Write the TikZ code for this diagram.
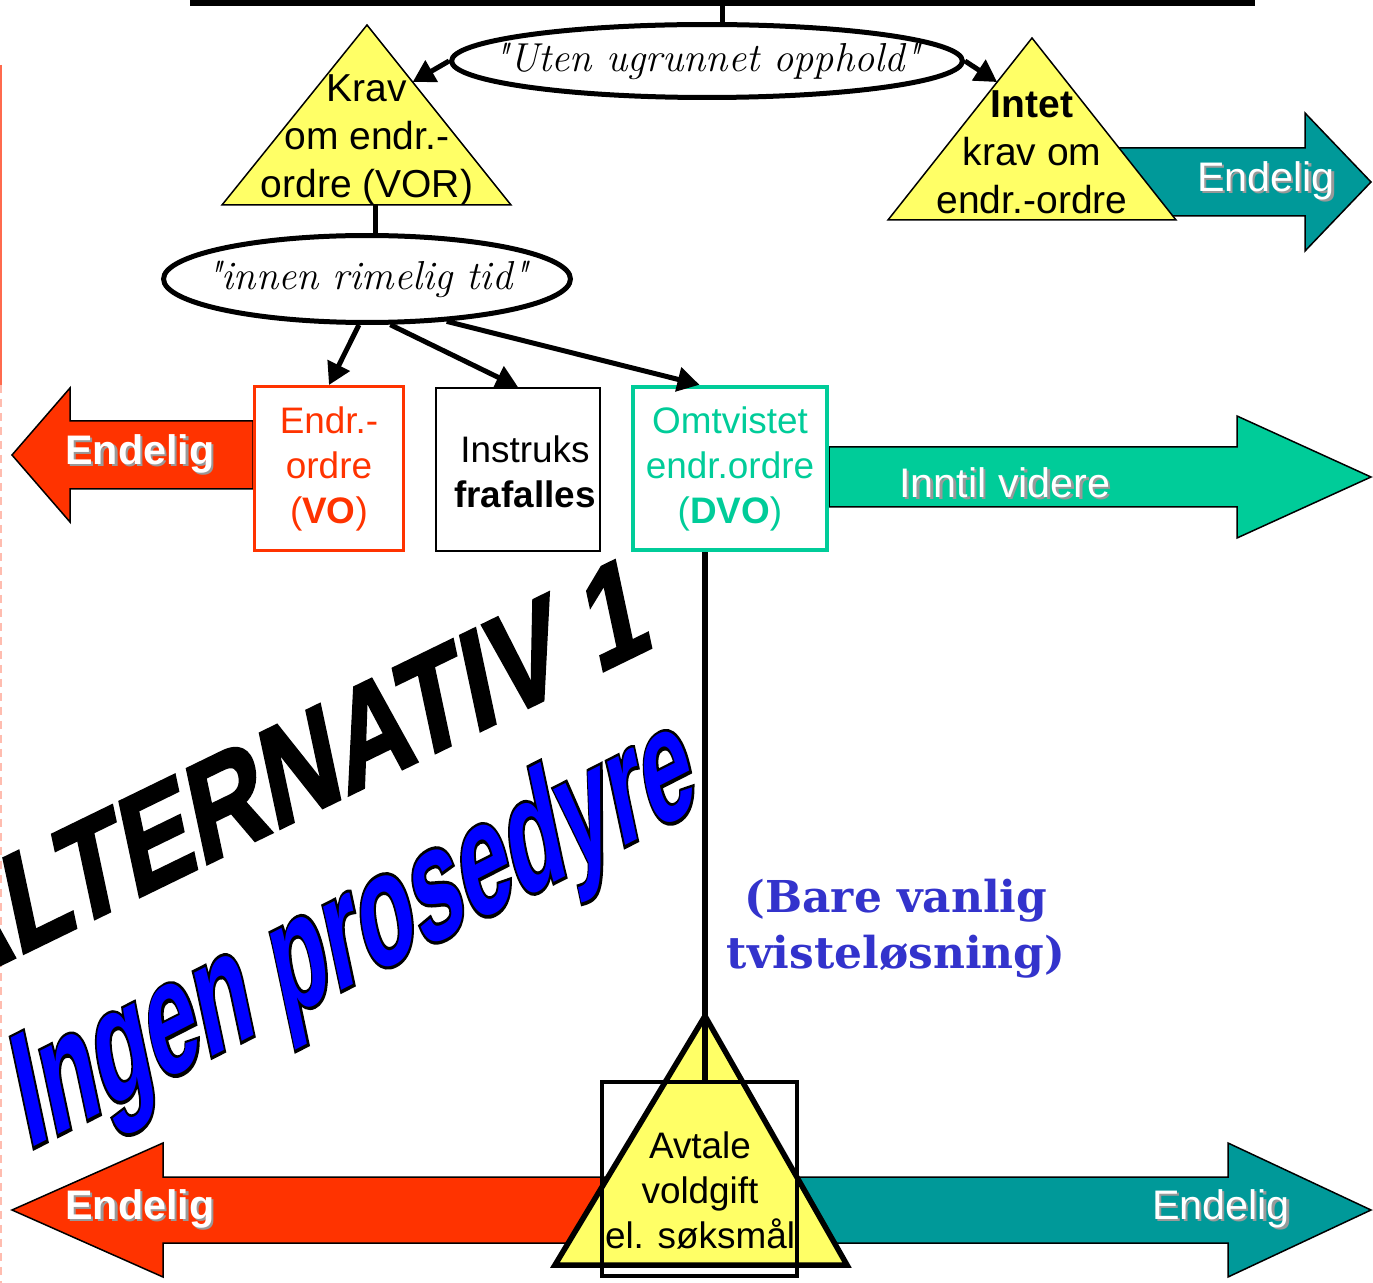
\documentclass[tikz,border=0pt]{standalone}
\usepackage{fontspec}
\setmainfont{Liberation Sans}
\newfontfamily\handfont{Latin Modern Roman}
\newfontfamily\slabfont{DejaVu Serif}
\newfontfamily\artfont{Liberation Sans}
\newfontfamily\artheavy{Liberation Sans}[FakeBold=2.5]
\newfontfamily\artedge{Liberation Sans}[FakeBold=4]
\usetikzlibrary{positioning,arrows.meta,calc,shapes.geometric}

\definecolor{triyellow}{HTML}{FFFF66}
\definecolor{vored}{HTML}{FF3300}
\definecolor{dvogreen}{HTML}{00CC99}
\definecolor{endteal}{HTML}{009999}
\definecolor{tvistblue}{HTML}{3333CC}
\definecolor{artblue}{HTML}{0000FF}
\definecolor{marginred}{HTML}{FF6A4D}

% white label with a soft drop shadow
\newcommand{\shd}[1]{\makebox[0pt][l]{\hspace{1.3pt}\raisebox{-1.3pt}{\color{black!40}#1}}#1}
% blue word-art text with black edge
\newcommand{\edgetext}[1]{\makebox[0pt][l]{\color{black}\artedge\bfseries #1}{\color{artblue}\artfont\bfseries #1}}

\begin{document}
\begin{tikzpicture}[x=0.02cm, y=-0.02cm]
\tikzset{
  line/.style={line width=0.1cm},
  conn/.style={line width=0.1cm, -{Triangle[length=0.44cm, width=0.48cm]}},
  tri/.style={draw=black, line width=0.03cm, fill=triyellow},
  bigtri/.style={draw=black, line width=0.11cm, fill=triyellow},
  blk/.style={draw=black, line width=0.03cm},
  oval/.style={ellipse, draw, line width=0.1cm, inner sep=0pt,
    font=\handfont\itshape\fontsize{23}{23}\selectfont},
  trilabel/.style={align=center, inner sep=0pt, font=\fontsize{22.2}{27.3}\selectfont},
  boxlabel/.style={align=center, inner sep=0pt, font=\fontsize{21}{25.6}\selectfont},
  endlabel/.style={text=white, inner sep=0pt, font=\fontsize{23.5}{23.5}\selectfont},
}

\useasboundingbox (0,0) rectangle (1373,1283);

% ---- margin rule ----
\draw[marginred, line width=0.04cm] (1,65) -- (1,385);
\draw[marginred!45, line width=0.04cm, dash pattern=on 0.16cm off 0.12cm] (1,385) -- (1,1283);

% ---- word-art headings ----
\node[inner sep=0pt, anchor=base east, cm={0.899,0.438,-0.26,1.22,(0,0)},
      font=\artheavy\bfseries\fontsize{64}{64}\selectfont] (alt) at (654,646) {ALTERNATIV 1};
\node[inner sep=0pt, anchor=base west, cm={0.820,0.418,-0.318,1.497,(0,0)},
      font=\fontsize{60}{60}\selectfont] (ingen) at (28,1150) {\edgetext{Ingen prosedyre}};

% ---- block arrows ----
\draw[blk, fill=vored] (253,421) -- (70,421) -- (70,388) -- (12,455) -- (70,522) -- (70,489) -- (253,489) -- cycle;
\draw[blk, fill=dvogreen] (829,447) -- (1237,447) -- (1237,416) -- (1371,477) -- (1237,538) -- (1237,507) -- (829,507) -- cycle;
\draw[blk, fill=endteal] (1100,148) -- (1305,148) -- (1305,113) -- (1371,182) -- (1305,251) -- (1305,216) -- (1100,216) -- cycle;
\draw[blk, fill=vored] (620,1177) -- (163,1177) -- (163,1143) -- (12,1210) -- (163,1277) -- (163,1243) -- (620,1243) -- cycle;
\draw[blk, fill=endteal] (790,1177) -- (1228,1177) -- (1228,1143) -- (1371,1210) -- (1228,1277) -- (1228,1243) -- (790,1243) -- cycle;

\node[endlabel] (endVO) at (140,455) {\bfseries\shd{Endelig}};
\node[endlabel] (inntil) at (1005,484) {\shd{Inntil videre}};
\node[endlabel] (endTop) at (1266,182) {\shd{Endelig}};
\node[endlabel] (endL) at (140,1210) {\bfseries\shd{Endelig}};
\node[endlabel] (endR) at (1221,1210) {\shd{Endelig}};

% ---- top bar and first question ----
\coordinate (barL) at (190,3);
\coordinate (barR) at (1255,3);
\coordinate (barT) at (722,3);
\draw[line width=0.12cm] (barL) -- (barR);
\node[oval, minimum width=10.22cm, minimum height=1.46cm] (uten) at (707,61)
  {\makebox[0pt]{"Uten ugrunnet opphold"}};
\draw[line] (barT) -- (barT |- uten.north);

% ---- triangles ----
\coordinate (kravT) at (367,25);
\coordinate (kravL) at (222,205);
\coordinate (kravR) at (511,205);
\draw[tri] (kravT) -- (kravL) -- (kravR) -- cycle;
\node[trilabel] (krav) at (367,140) {Krav\\om endr.-\\ordre (VOR)};

\coordinate (intetT) at (1032,38);
\coordinate (intetL) at (888,220);
\coordinate (intetR) at (1176,220);
\draw[tri] (intetT) -- (intetL) -- (intetR) -- cycle;
\node[trilabel] (intet) at (1032,152) {\textbf{Intet}\\krav om\\endr.-ordre};

\coordinate (kravE) at ($(kravT)!0.317!(kravR)$);
\coordinate (intetW) at ($(intetT)!0.242!(intetL)$);
\draw[conn] (uten.west) -- (kravE);
\draw[conn] (uten.east) -- (intetW);

% ---- second question ----
\node[oval, minimum width=8.14cm, minimum height=1.74cm] (rimelig) at (367,279)
  {\makebox[0pt]{"innen rimelig tid"}};
\coordinate (kravB) at (375,205);
\draw[line] (kravB) -- (kravB |- rimelig.north);

% ---- outcomes ----
\node[draw=vored, line width=0.06cm, minimum width=2.98cm, minimum height=3.28cm,
      boxlabel, text=vored] (vo) at (329,468.5) {Endr.-\\ordre\\(\textbf{VO})};
\node[draw=black, line width=0.04cm, minimum width=3.28cm, minimum height=3.26cm] (instruks) at (518,469.5) {};
\node[boxlabel] (instrukstxt) at (525,472) {Instruks\\\textbf{frafalles}};
\node[draw=dvogreen, line width=0.09cm, minimum width=3.88cm, minimum height=3.26cm,
      boxlabel, text=dvogreen] (dvo) at (730,468.5) {Omtvistet\\endr.ordre\\(\textbf{DVO})};

\draw[conn] (rimelig.-100) -- (vo.north);
\draw[conn] (rimelig.-63) -- (instruks.north);
\draw[conn] (rimelig.-28) -- (dvo.110);

\node[font=\slabfont\bfseries\fontsize{25}{31.9}\selectfont, text=tvistblue, align=center]
  (bare) at (896,929) {(Bare vanlig\\tvisteløsning)};

% ---- dispute resolution ----
\coordinate (avtT) at (705,1016);
\coordinate (avtL) at (555,1265);
\coordinate (avtR) at (847,1265);
\draw[bigtri] (avtT) -- (avtL) -- (avtR) -- cycle;
\node[draw, line width=0.08cm, minimum width=3.9cm, minimum height=3.9cm] (forum) at (699.5,1179) {};
\node[boxlabel] (avtale) at (700,1190) {Avtale\\voldgift\\el. søksmål};
\draw[line width=0.12cm] (dvo.south -| avtT) -- (forum.north -| avtT);

\end{tikzpicture}
\end{document}
